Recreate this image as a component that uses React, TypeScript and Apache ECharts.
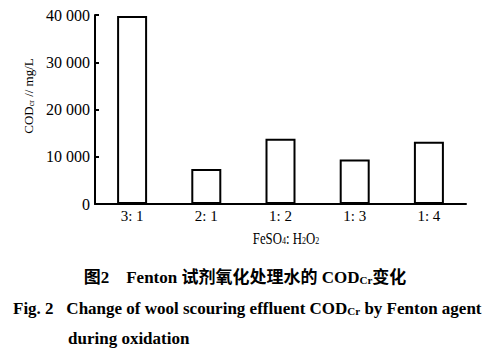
import React, { useEffect, useRef } from "react";
import * as echarts from "echarts";

const categories = ["3: 1", "2: 1", "1: 2", "1: 3", "1: 4"];
const codValues = [39800, 7400, 13800, 9400, 13200];
const yTicks = { min: 0, max: 40000, interval: 10000 };

const SERIF = '"Liberation Serif", "Noto Sans CJK SC", serif';

export default function App() {
  const ref = useRef<HTMLDivElement>(null);
  useEffect(() => {
    if (!ref.current) return;
    const chart = echarts.init(ref.current, null, { renderer: "svg" });
    const subRich = (size: number, bold: boolean) => ({
      n: { fontFamily: SERIF, fontSize: size, fontWeight: bold ? "bold" : "normal", fill: "#000" },
      s: {
        fontFamily: SERIF,
        fontSize: Math.round(size * 0.65),
        fontWeight: bold ? "bold" : "normal",
        fill: "#000",
        verticalAlign: "bottom",
        padding: [6, 0, 0, 0],
      },
    });
    chart.setOption({
      animation: false,
      backgroundColor: "#fff",
      grid: { left: 95, right: 18, top: 15, bottom: 155, containLabel: false },
      xAxis: {
        type: "category",
        data: categories,
        axisLine: { lineStyle: { color: "#000", width: 2 } },
        axisTick: { inside: true, length: 5, lineStyle: { color: "#000", width: 2 } },
        axisLabel: { color: "#000", fontFamily: SERIF, fontSize: 15, margin: 4 },
      },
      yAxis: {
        type: "value",
        min: yTicks.min,
        max: yTicks.max,
        interval: yTicks.interval,
        splitLine: { show: false },
        axisLine: { show: true, lineStyle: { color: "#000", width: 2 } },
        axisTick: { show: true, inside: true, length: 4, lineStyle: { color: "#000", width: 2 } },
        axisLabel: {
          color: "#000",
          fontFamily: SERIF,
          fontSize: 16,
          margin: 5,
          formatter: (v: number) => {
            if (v === 0) return "0";
            const s = String(v);
            return s.slice(0, s.length - 3) + " " + s.slice(s.length - 3);
          },
        },
      },
      series: [
        {
          type: "bar",
          data: codValues,
          barWidth: 30,
          itemStyle: { color: "#fff", borderColor: "#000", borderWidth: 2 },
        },
      ],
      graphic: [
        {
          type: "text",
          x: 28,
          y: 96,
          rotation: Math.PI / 2,
          style: {
            text: "{n|COD}{s|cr}{n| // mg/L}",
            fill: "#000",
            align: "center",
            verticalAlign: "middle",
            rich: subRich(13, false),
          },
        },
        {
          type: "text",
          x: 286,
          y: 238,
          scaleX: 0.8,
          style: {
            text: "{n|FeSO}{s|4}{n|: H}{s|2}{n|O}{s|2}",
            fill: "#000",
            align: "center",
            verticalAlign: "middle",
            rich: subRich(16, false),
          },
        },
        {
          type: "text",
          x: 245,
          y: 277,
          style: {
            text: "{n|图2    Fenton 试剂氧化处理水的 COD}{s|Cr}{n|变化}",
            fill: "#000",
            align: "center",
            verticalAlign: "middle",
            rich: subRich(17, true),
          },
        },
        {
          type: "text",
          x: 13,
          y: 308,
          style: {
            text: "{n|Fig. 2   Change of wool scouring effluent COD}{s|Cr}{n| by Fenton agent}",
            fill: "#000",
            align: "left",
            verticalAlign: "middle",
            rich: subRich(17, true),
          },
        },
        {
          type: "text",
          x: 68,
          y: 338,
          style: {
            text: "during oxidation",
            fill: "#000",
            align: "left",
            verticalAlign: "middle",
            font: 'bold 17px "Liberation Serif", serif',
          },
        },
      ],
    });
    return () => chart.dispose();
  }, []);
  return <div ref={ref} style={{ width: 484, height: 359, position: "absolute", left: 0, top: 0 }} />;
}
